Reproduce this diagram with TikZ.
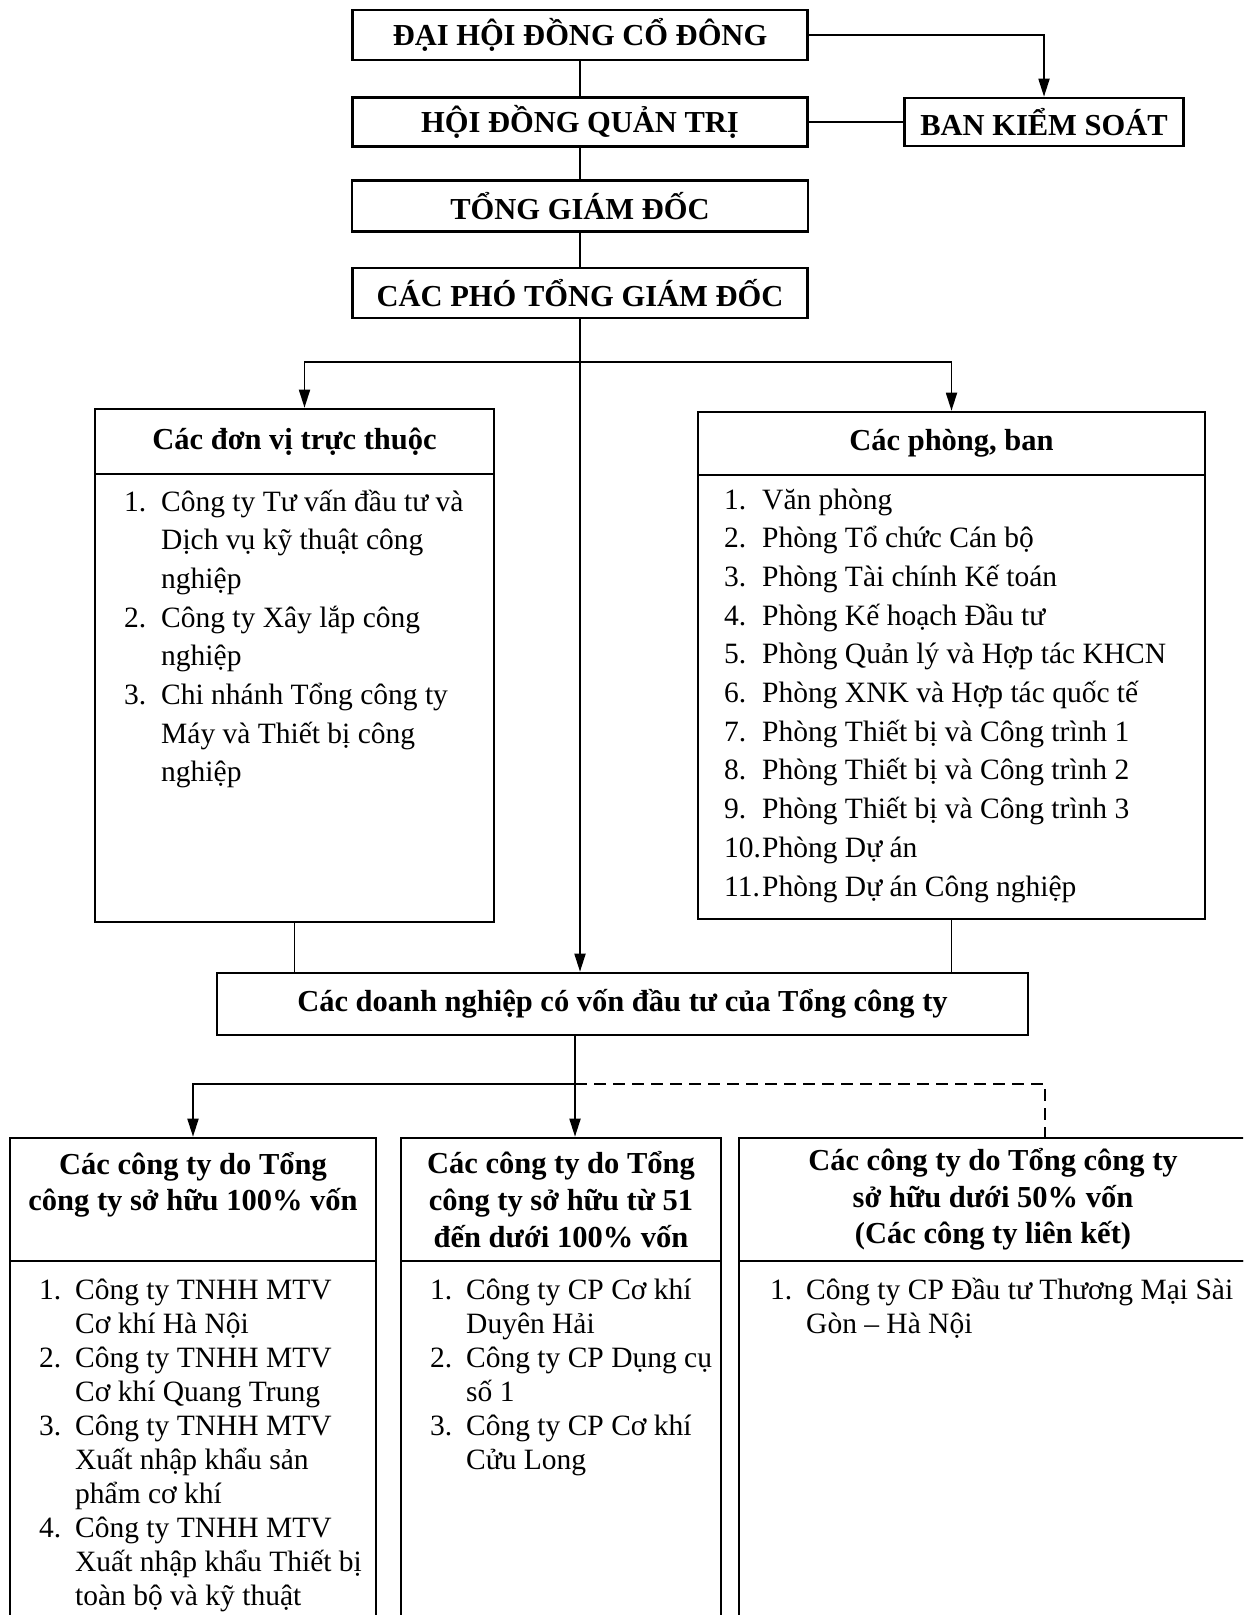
\documentclass[tikz,border=0pt]{standalone}
\usepackage{fontspec}
\setmainfont{Liberation Serif}
\usetikzlibrary{positioning,arrows.meta,calc}

\begin{document}
\begin{tikzpicture}[x=1pt,y=-1pt,>={Triangle[length=18pt,width=11pt]}]
\tikzstyle{tb} = [draw,line width=2.6pt,inner sep=0pt,align=center,font=\bfseries\fontsize{30.5}{36.6}\selectfont]
\tikzstyle{bb} = [draw,line width=2.6pt,inner sep=0pt]
\tikzstyle{ls} = [anchor=base west,inner sep=0pt,font=\fontsize{29.5}{38.7}\selectfont]
\tikzstyle{lt} = [anchor=base west,inner sep=0pt,font=\fontsize{29.5}{34}\selectfont]
\tikzstyle{ln} = [line width=1.8pt]
\path[use as bounding box,clip] (0,0) rectangle (1243,1615);
\node[tb,minimum width=455,minimum height=50] (dhdcd) at (580,35) {ĐẠI HỘI ĐỒNG CỔ ĐÔNG};
\node[tb,minimum width=455,minimum height=49] (hdqt) at (580,122) {HỘI ĐỒNG QUẢN TRỊ};
\node[tb,minimum width=279,minimum height=48] (bks) at (1044,122) {BAN KIỂM SOÁT};
\node[tb,minimum width=456,minimum height=51] (tgd) at (580,206) {TỔNG GIÁM ĐỐC};
\node[tb,minimum width=455,minimum height=50] (cptgd) at (580,293) {CÁC PHÓ TỔNG GIÁM ĐỐC};
\node[tb,minimum width=399,minimum height=65] (dvhead) at (294.5,441.5) {Các đơn vị trực thuộc};
\node[bb,minimum width=399,minimum height=448] (dvbody) at (294.5,698) {};
\node[tb,minimum width=507,minimum height=63] (pbhead) at (951.5,443.5) {Các phòng, ban};
\node[bb,minimum width=507,minimum height=444] (pbbody) at (951.5,697) {};
\node[ls] (dvlist) at (124,511) {\begin{tabular}[t]{@{}p{37pt}@{}l@{}}
1. & Công ty Tư vấn đầu tư và\\
 & Dịch vụ kỹ thuật công\\
 & nghiệp\\
2. & Công ty Xây lắp công\\
 & nghiệp\\
3. & Chi nhánh Tổng công ty\\
 & Máy và Thiết bị công\\
 & nghiệp
\end{tabular}};
\node[ls] (pblist) at (724,509) {\begin{tabular}[t]{@{}p{38pt}@{}l@{}}
1. & Văn phòng\\
2. & Phòng Tổ chức Cán bộ\\
3. & Phòng Tài chính Kế toán\\
4. & Phòng Kế hoạch Đầu tư\\
5. & Phòng Quản lý và Hợp tác KHCN\\
6. & Phòng XNK và Hợp tác quốc tế\\
7. & Phòng Thiết bị và Công trình 1\\
8. & Phòng Thiết bị và Công trình 2\\
9. & Phòng Thiết bị và Công trình 3\\
10. & Phòng Dự án\\
11. & Phòng Dự án Công nghiệp
\end{tabular}};
\node[tb,minimum width=811,minimum height=62] (dn) at (622.5,1004) {Các doanh nghiệp có vốn đầu tư của Tổng công ty};
\node[tb,minimum width=366,minimum height=123] (c100head) at (193,1199.5) {Các công ty do Tổng\\công ty sở hữu 100\% vốn\\\mbox{}};
\node[bb,minimum width=366,minimum height=379] (c100body) at (193,1450.5) {};
\node[tb,minimum width=320,minimum height=123] (c51head) at (561,1199.5) {Các công ty do Tổng\\công ty sở hữu từ 51\\đến dưới 100\% vốn};
\node[bb,minimum width=320,minimum height=379] (c51body) at (561,1450.5) {};
\node[tb,minimum width=508,minimum height=123] (c50head) at (993,1199.5) {Các công ty do Tổng công ty\\sở hữu dưới 50\% vốn\\(Các công ty liên kết)};
\node[bb,minimum width=508,minimum height=379] (c50body) at (993,1450.5) {};
\node[lt] (c100list) at (39,1299) {\begin{tabular}[t]{@{}p{36pt}@{}l@{}}
1. & Công ty TNHH MTV\\
 & Cơ khí Hà Nội\\
2. & Công ty TNHH MTV\\
 & Cơ khí Quang Trung\\
3. & Công ty TNHH MTV\\
 & Xuất nhập khẩu sản\\
 & phẩm cơ khí\\
4. & Công ty TNHH MTV\\
 & Xuất nhập khẩu Thiết bị\\
 & toàn bộ và kỹ thuật
\end{tabular}};
\node[lt] (c51list) at (430,1299) {\begin{tabular}[t]{@{}p{36pt}@{}l@{}}
1. & Công ty CP Cơ khí\\
 & Duyên Hải\\
2. & Công ty CP Dụng cụ\\
 & số 1\\
3. & Công ty CP Cơ khí\\
 & Cửu Long
\end{tabular}};
\node[lt] (c50list) at (770,1299) {\begin{tabular}[t]{@{}p{36pt}@{}l@{}}
1. & Công ty CP Đầu tư Thương Mại Sài\\
 & Gòn – Hà Nội
\end{tabular}};
\coordinate (br1) at (580,362);
\coordinate (br2) at (575,1084);
\coordinate (br3) at (1045,1084);
\draw[ln,->] (dhdcd.east) -| (bks.north);
\draw[ln] (dhdcd.south) -- (hdqt.north);
\draw[ln] (hdqt.east) -- (bks.west);
\draw[ln] (hdqt.south) -- (tgd.north);
\draw[ln] (tgd.south) -- (cptgd.north);
\draw[ln,->] (cptgd.south) -- (cptgd.south |- dn.north);
\draw[ln,->] (br1) -| ($(dvhead.north)+(10,0)$);
\draw[ln,->] (br1) -| (pbhead.north);
\draw[ln] (dvbody.south) -- (dvbody.south |- dn.north);
\draw[ln] (pbbody.south) -- (pbbody.south |- dn.north);
\draw[ln] (dn.south -| br2) -- (br2);
\draw[ln,->] (br2) -| (c100head.north);
\draw[ln,->] (br2) -- (br2 |- c51head.north);
\draw[ln,dash pattern=on 12pt off 7pt] (br2) -- (br3) -- (br3 |- c50head.north);
\end{tikzpicture}
\end{document}
